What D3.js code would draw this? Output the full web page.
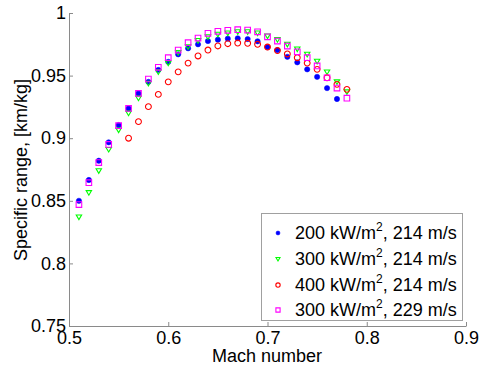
<!DOCTYPE html>
<html><head><meta charset="utf-8">
<script src="https://cdn.jsdelivr.net/npm/d3@7"></script>
<style>
body{margin:0;background:#fff;}
svg{display:block;font-family:"Liberation Sans",Arial,sans-serif;}
</style></head>
<body><svg id="c" width="489" height="367"></svg>
<script>
const machA = [0.51,0.52,0.53,0.54,0.55,0.56,0.57,0.58,0.59,0.60,0.61,0.62,0.63,0.64,0.65,0.66,0.67,0.68,0.69,0.70,0.71,0.72,0.73,0.74,0.75,0.76,0.77,0.78];
const machRed = [0.56,0.57,0.58,0.59,0.60,0.61,0.62,0.63,0.64,0.65,0.66,0.67,0.68,0.69,0.70,0.71,0.72,0.73,0.74,0.75,0.76,0.77,0.78];
const blue200 = [0.850,0.8666,0.882,0.8967,0.9105,0.9238,0.9358,0.945,0.9545,0.961,0.967,0.9718,0.975,0.9776,0.9787,0.9795,0.9798,0.9792,0.9774,0.9728,0.9704,0.965,0.9606,0.955,0.949,0.940,0.9313];
const green300 = [0.837,0.8565,0.874,0.891,0.9065,0.920,0.932,0.9438,0.953,0.960,0.9683,0.973,0.978,0.981,0.983,0.984,0.985,0.985,0.984,0.9816,0.9787,0.975,0.9712,0.967,0.9614,0.9529,0.945,0.937];
const red400 = [0.900,0.9132,0.9252,0.935,0.945,0.953,0.960,0.9657,0.9704,0.9737,0.9755,0.976,0.9758,0.975,0.9728,0.970,0.9673,0.9643,0.960,0.955,0.9483,0.943,0.939];
const mag300 = [0.847,0.8645,0.8805,0.895,0.910,0.9238,0.9358,0.9473,0.9566,0.9643,0.9704,0.9763,0.980,0.9838,0.9854,0.9862,0.9867,0.9864,0.985,0.981,0.9776,0.9736,0.969,0.9643,0.9577,0.9483,0.940,0.932];
const xTicks = [0.5,0.6,0.7,0.8,0.9];
const xTickLabels = ["0.5","0.6","0.7","0.8","0.9"];
const yTicks = [0.75,0.8,0.85,0.9,0.95,1];
const yTickLabels = ["0.75","0.8","0.85","0.9","0.95","1"];
const legendPre = ["200 kW/m","300 kW/m","400 kW/m","300 kW/m"];
const legendPost = [", 214 m/s",", 214 m/s",", 214 m/s",", 229 m/s"];

const svg = d3.select("#c");
const x = d3.scaleLinear().domain([0.5,0.9]).range([69,466]);
const y = d3.scaleLinear().domain([0.75,1]).range([326,13]);
const axisColor = "#8a8a8a";
const fs = 18;

const xa = svg.append("g").attr("transform","translate(0,326)")
  .call(d3.axisBottom(x).tickValues(xTicks).tickFormat((d,i)=>xTickLabels[i]).tickSizeInner(-4).tickSizeOuter(0).tickPadding(5));
const ya = svg.append("g").attr("transform","translate(69,0)")
  .call(d3.axisLeft(y).tickValues(yTicks).tickFormat((d,i)=>yTickLabels[i]).tickSizeInner(-4).tickSizeOuter(0).tickPadding(3));
[xa,ya].forEach(a=>{
  a.select(".domain").attr("stroke",axisColor);
  a.selectAll(".tick line").attr("stroke",axisColor);
  a.selectAll("text").attr("fill","#000").style("font-size",fs+"px").style("font-family","'Liberation Sans',Arial,sans-serif");
});

svg.append("text").attr("x",267).attr("y",362).attr("text-anchor","middle").style("font-size",fs+"px").text("Mach number");
svg.append("text").attr("transform","translate(27,170) rotate(-90)").attr("text-anchor","middle").style("font-size",fs+"px").text("Specific range, [km/kg]");

const triPath = s => `M${-s},${-s*0.75}L${s},${-s*0.75}L0,${s*0.95}Z`;
function drawSeries(kind, xs, ys, g){
  const pts = xs.map((m,i)=>[m, ys[i]]).filter(p=>p[1]!==undefined);
  const sel = g.selectAll("path").data(pts).enter().append("path")
    .attr("transform",d=>`translate(${x(d[0])},${y(d[1])})`);
  styleMarker(sel, kind, 1);
}
function styleMarker(sel, kind, sc){
  if(kind==="blue") sel.attr("d", d3.symbol(d3.symbolCircle, 22*sc*sc)()).attr("fill","#0000ff").attr("stroke","#0000ff").attr("stroke-width",0.5);
  if(kind==="green") sel.attr("d", triPath(2.7*sc)).attr("fill","none").attr("stroke","#00ff00").attr("stroke-width",1.1);
  if(kind==="red") sel.attr("d", `M${2.9*sc},0A${2.9*sc},${2.9*sc} 0 1,1 ${-2.9*sc},0A${2.9*sc},${2.9*sc} 0 1,1 ${2.9*sc},0Z`).attr("fill","none").attr("stroke","#ff0000").attr("stroke-width",1.1);
  if(kind==="mag") sel.attr("d", `M${-2.8*sc},${-2.8*sc}h${5.6*sc}v${5.6*sc}h${-5.6*sc}Z`).attr("fill","none").attr("stroke","#ff00ff").attr("stroke-width",1.1);
}
drawSeries("blue", machA, blue200, svg.append("g"));
drawSeries("green", machA, green300, svg.append("g"));
drawSeries("red", machRed, red400, svg.append("g"));
drawSeries("mag", machA, mag300, svg.append("g"));

// legend
const lg = svg.append("g");
lg.append("rect").attr("x",261.5).attr("y",213.5).attr("width",201).attr("height",107).attr("fill","#fff").attr("stroke","#a0a0a0");
const kinds = ["blue","green","red","mag"];
const rowY = [233,259,285,310];
kinds.forEach((k,i)=>{
  const m = lg.append("path").attr("transform",`translate(278,${rowY[i]})`);
  styleMarker(m, k, 0.75);
  const t = lg.append("text").attr("x",295).attr("y",rowY[i]+6).style("font-size",fs+"px");
  t.append("tspan").text(legendPre[i]);
  t.append("tspan").attr("dy",-8).style("font-size","12px").text("2");
  t.append("tspan").attr("dy",8).text(legendPost[i]);
});
</script></body></html>
